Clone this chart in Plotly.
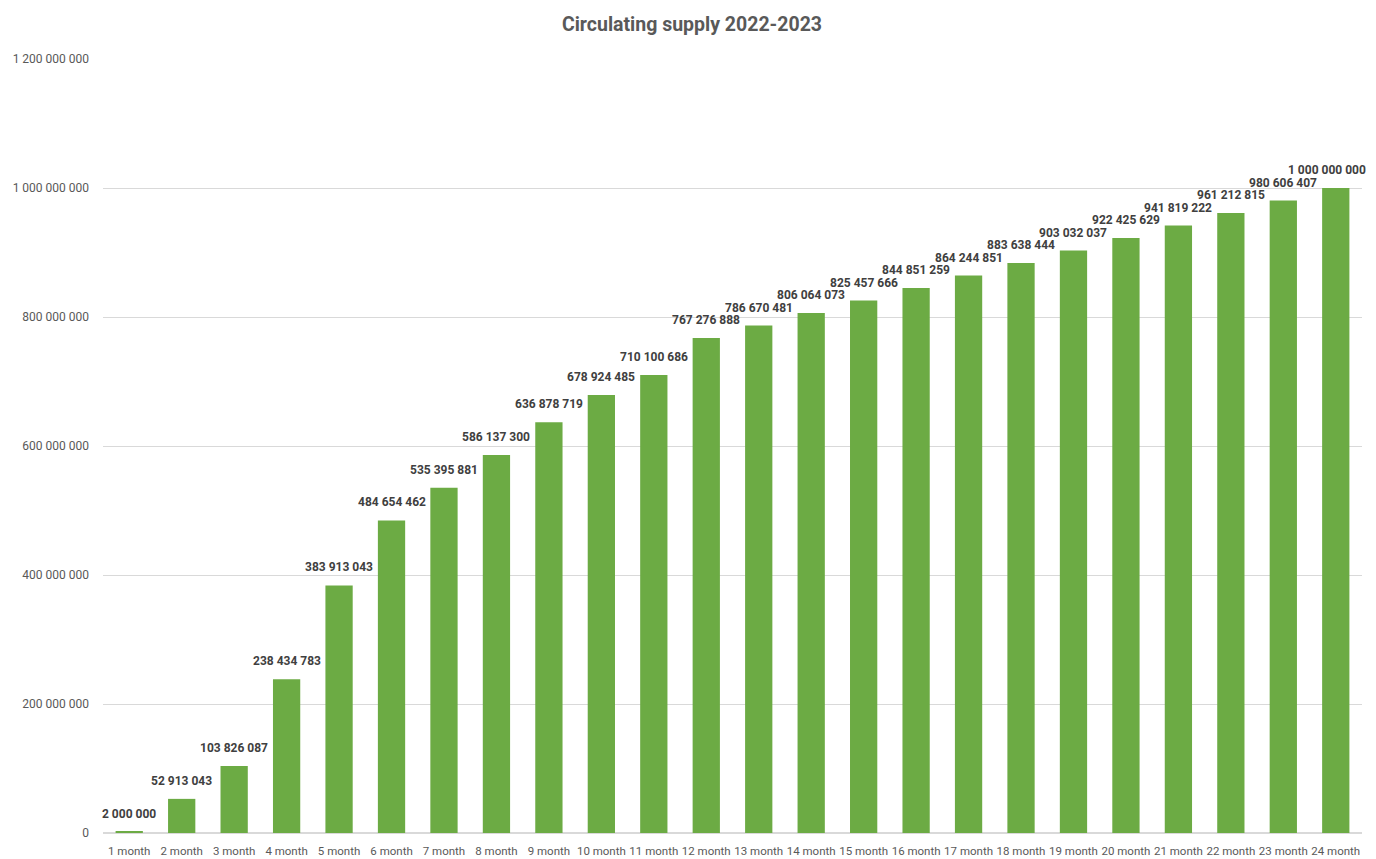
import plotly.graph_objects as go

months = [f"{i} month" for i in range(1, 25)]
supply = [2000000, 52913043, 103826087, 238434783, 383913043, 484654462,
          535395881, 586137300, 636878719, 678924485, 710100686, 767276888,
          786670481, 806064073, 825457666, 844851259, 864244851, 883638444,
          903032037, 922425629, 941819222, 961212815, 980606407, 1000000000]
y_ticks = [0, 200000000, 400000000, 600000000, 800000000, 1000000000, 1200000000]

FONT = "Roboto"


def fmt(v):
    return f"{v:,}".replace(",", " ")


fig = go.Figure()
fig.add_trace(go.Bar(
    x=months, y=supply,
    marker=dict(color="#6cab44", line=dict(width=0)),
    hoverinfo="skip",
))

for i, (m, v) in enumerate(zip(months, supply)):
    fig.add_annotation(
        x=m, y=v, text=fmt(v), showarrow=False,
        xanchor="center", yanchor="bottom", yshift=9,
        xshift=-9 if i == len(months) - 1 else 0,
        font=dict(family=FONT, size=12, color="#404040", weight="bold"),
    )

fig.update_layout(
    width=1368, height=851,
    separators=". ",
    paper_bgcolor="white", plot_bgcolor="white",
    margin=dict(l=95, r=14, t=51, b=26, autoexpand=False),
    title=dict(text="<b>Circulating supply 2022-2023</b>", x=0.5, xanchor="center",
               y=1 - 16 / 851, yanchor="middle",
               font=dict(family=FONT, size=19.5, color="#595959")),
    bargap=0.48,
    showlegend=False,
    font=dict(family=FONT, color="#595959"),
)
fig.update_yaxes(range=[0, 1200000000], tickvals=y_ticks, tickformat=",d",
                 showgrid=True, gridcolor="#d9d9d9", gridwidth=1,
                 zeroline=True, zerolinecolor="#d9d9d9",
                 tickfont=dict(family=FONT, size=12, color="#595959"),
                 ticks="", ticklabelstandoff=13)
fig.update_xaxes(range=[-0.5, len(months) - 0.5],
                 showgrid=False, showline=False, ticks="",
                 tickfont=dict(family=FONT, size=11.5, color="#595959"),
                 tickangle=0, ticklabelstandoff=9)

fig.write_html("out.html")
